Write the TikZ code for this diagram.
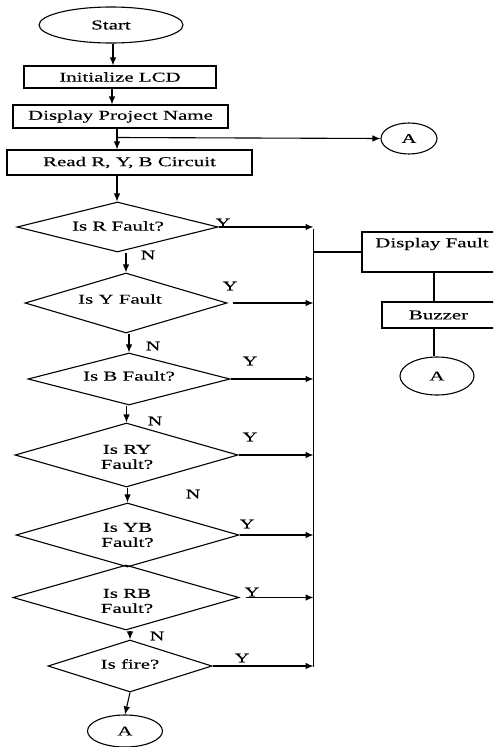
\documentclass[tikz,border=0pt]{standalone}
\usepackage{fontspec}
\setmainfont{Liberation Serif}[FakeStretch=1.55,FakeBold=0.3]
\usetikzlibrary{shapes.geometric,arrows.meta}
\tikzset{
  every node/.style={font=\fontsize{13.5}{15}\selectfont, inner sep=0pt},
  ln/.style={line width=1.1pt, draw=black},
  arr/.style={ln, -{Latex[length=8pt,width=6.5pt]}},
  boxn/.style={rectangle, ln},
  oval/.style={ellipse, ln},
  dia/.style={diamond, ln},
  tag/.style={font=\fontsize{13}{15}\selectfont}
}
\begin{document}
\begin{tikzpicture}[x=1pt,y=-1pt]
\useasboundingbox (0,0) rectangle (493,747);
\clip (0,0) rectangle (493,747);

% main column
\node[oval, minimum width=144, minimum height=36] (start) at (111,25) {Start};
\node[boxn, minimum width=192, minimum height=22] (init) at (120,77) {Initialize LCD};
\node[boxn, minimum width=215, minimum height=23] (disp) at (120.5,116.5) {Display Project Name};
\node[boxn, minimum width=245, minimum height=25] (read) at (129.5,162.5) {Read R, Y, B Circuit};
\node[oval, minimum width=56, minimum height=31] (a1) at (409,138.5) {A};

% decisions (outline and text separately so the outline size is exact)
\node[dia, minimum width=201, minimum height=50] (dr) at (117.5,227) {};
\node (tr) at (118,226) {Is R Fault?};
\node[dia, minimum width=202, minimum height=60] (dy) at (126,303) {};
\node (ty) at (120,299) {Is Y Fault};
\node[dia, minimum width=202, minimum height=52] (db) at (129,379) {};
\node (tb) at (129,376) {Is B Fault?};
\node[dia, minimum width=223, minimum height=64] (dry) at (126.5,455) {};
\node[align=center] (try) at (127,457) {Is RY\\Fault?};
\node[dia, minimum width=223, minimum height=64] (dyb) at (127.5,535) {};
\node[align=center] (tyb) at (127.5,535) {Is YB\\Fault?};
\node[dia, minimum width=226, minimum height=65] (drb) at (126,597.5) {};
\node[align=center] (trb) at (127,601) {Is RB\\Fault?};
\node[dia, minimum width=164, minimum height=52] (dfi) at (130,666) {};
\node (tfi) at (130,664) {Is fire?};
\node[oval, minimum width=75, minimum height=32] (a3) at (125,731) {A};

% fault branch
\node[boxn, minimum width=133, minimum height=40] (df) at (428.5,252) {};
\node (dft) at (432,244) {Display Fault};
\node[boxn, minimum width=113, minimum height=26] (bz) at (438.5,315) {Buzzer};
\node[oval, minimum width=74, minimum height=38] (a2) at (437,376) {A};

% collecting bus
\coordinate (bustop) at (313.5,229);
\coordinate (busbot) at (313.5,667);
\draw[line width=1.8pt] (bustop) -- (busbot);

% main flow
\draw[arr] (start.south -| 113,0) -- (init.north -| 113,0);
\draw[arr] (init.south -| 112,0) -- (disp.north -| 112,0);
\coordinate (split) at (117,137.5);
\draw[arr] (disp.south -| split) -- (read.north -| split);
\draw[arr] (split) -- (a1.west);
\draw[arr] (read.south -| split) -- (dr.north -| split);
\draw[arr] (dr.south -| dy.north) -- (dy.north);
\draw[arr] (dy.south -| db.north) -- (db.north);
\draw[arr] (db.south -| dry.north) -- (dry.north);
\draw[arr] (dry.south -| dyb.north) -- (dyb.north);
\draw[arr] (drb.south -| dfi.north) -- (dfi.north);
\draw[arr] (dfi.south) -- (a3.north);

% yes branches into the bus
\draw[arr] (dr.east) -- (dr.east -| bustop);
\draw[arr] ([xshift=5pt]dy.east) -- (dy.east -| bustop);
\draw[arr] (db.east) -- (db.east -| bustop);
\draw[arr] (dry.east) -- (dry.east -| bustop);
\draw[arr] (dyb.east) -- (dyb.east -| bustop);
\draw[arr] ([xshift=6pt]drb.east) -- (drb.east -| bustop);
\draw[arr] (dfi.east) -- (dfi.east -| bustop);

% bus to the fault actions
\draw[ln] (df.west -| bustop) -- (df.west);
\draw[ln] (df.south -| 434,0) -- (bz.north -| 434,0);
\draw[ln] (bz.south -| 434,0) -- (a2.north -| 434,0);

% branch labels
\node[tag] (y1) at (223,223) {Y};
\node[tag] (y2) at (230,286) {Y};
\node[tag] (y3) at (250,361) {Y};
\node[tag] (y4) at (250,437) {Y};
\node[tag] (y5) at (247,524) {Y};
\node[tag] (y6) at (252,592) {Y};
\node[tag] (y7) at (242,658) {Y};
\node[tag] (n1) at (148,255) {N};
\node[tag] (n2) at (153,346) {N};
\node[tag] (n3) at (155,421) {N};
\node[tag] (n4) at (193,494) {N};
\node[tag] (n5) at (157,636) {N};
\end{tikzpicture}
\end{document}
